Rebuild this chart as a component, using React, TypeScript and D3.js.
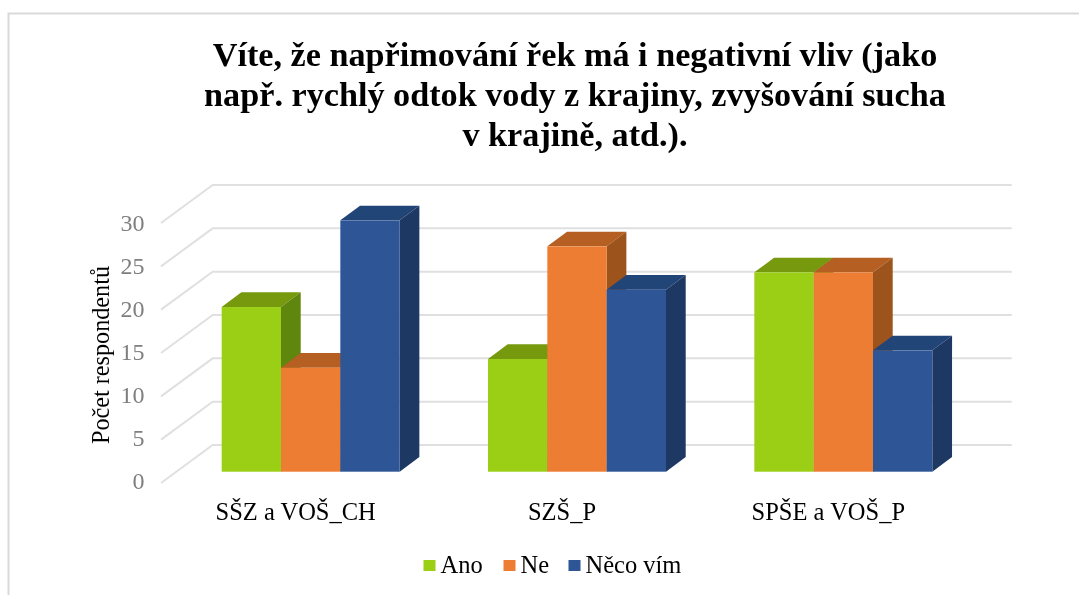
import React from "react";
import * as d3 from "d3";

const titleLines = [
  "Víte, že napřimování řek má i negativní vliv (jako",
  "např. rychlý odtok vody z krajiny, zvyšování sucha",
  "v krajině, atd.).",
];
const categories = ["SŠZ a VOŠ_CH", "SZŠ_P", "SPŠE a VOŠ_P"];
const seriesNames = ["Ano", "Ne", "Něco vím"];
const ano = [19, 13, 23];
const ne = [12, 26, 23];
const necoVim = [29, 21, 14];
const seriesValues = [ano, ne, necoVim];
const yTicks = [0, 5, 10, 15, 20, 25, 30];
const yLabel = "Počet respondentů";
const frontColors = ["#9ACF14", "#ED7D31", "#2E5797"];
const topColors = ["#76990F", "#B55E22", "#244478"];
const sideColors = ["#5F860A", "#9C521C", "#1F3864"];

const FONT = "'Liberation Serif', serif";

export default function App() {
  const W = 1079, H = 595;
  const base = 471.7;
  const yFront = d3.scaleLinear().domain([0, 30]).range([base, base - 260]);
  const yBack = d3.scaleLinear().domain([0, 30]).range([445, 185]);
  const yWallFront = d3.scaleLinear().domain([0, 30]).range([483, 223]);
  const yTickText = d3.scaleLinear().domain([0, 30]).range([489, 231]);
  const group = d3.scaleBand<string>().domain(categories).range([177.5, 976.5]).paddingInner(0).paddingOuter(0);
  const groupW = group.bandwidth();
  const inner = d3.scaleBand<string>().domain(seriesNames).range([0, 178]);
  const barW = inner.bandwidth();
  const groupOffset = (groupW - 178) / 2;
  const dx = 19.7, dy = -14.7;
  const poly = (pts: number[][]) => pts.map((p) => p.join(",")).join(" ");

  return (
    <svg
      width={W}
      height={H}
      viewBox={`0 0 ${W} ${H}`}
      style={{ position: "absolute", left: 0, top: 0, background: "#fff" }}
      fontFamily={FONT}
    >
      <defs>
        <filter id="soft" x="-5%" y="-5%" width="110%" height="110%">
          <feGaussianBlur stdDeviation="0.35" />
        </filter>
      </defs>
      <g filter="url(#soft)">
        <path d={`M8.5 595V13.5H1079`} fill="none" stroke="#D9D9D9" strokeWidth={2} />
        {titleLines.map((t, i) => (
          <text key={i} x={575} y={66 + i * 40.2} textAnchor="middle" fontSize={34.2} fontWeight={700} fill="#000">
            {t}
          </text>
        ))}
        {yTicks.map((t) => (
          <g key={t}>
            <polyline
              points={poly([[161, yWallFront(t)], [212.7, yBack(t)], [1011.7, yBack(t)]])}
              fill="none"
              stroke="#E0E0E0"
              strokeWidth={2}
            />
            <text x={144.5} y={yTickText(t)} textAnchor="end" fontSize={24} fill="#7F7F7F">
              {t}
            </text>
          </g>
        ))}
        <text
          transform="translate(108.5,355) rotate(-90)"
          textAnchor="middle"
          fontSize={24.2}
          fill="#000"
        >
          {yLabel}
        </text>
        {categories.map((c, ci) => {
          const gx = group(c)! + groupOffset;
          return (
            <g key={c}>
              {seriesNames.map((s, si) => {
                const x0 = gx + inner(s)!;
                const x1 = x0 + barW;
                const yT = yFront(seriesValues[si][ci]);
                return (
                  <g key={s}>
                    <polygon points={poly([[x0, yT], [x1, yT], [x1 + dx, yT + dy], [x0 + dx, yT + dy]])} fill={topColors[si]} />
                    <polygon points={poly([[x1, yT], [x1 + dx, yT + dy], [x1 + dx, base + dy], [x1, base]])} fill={sideColors[si]} />
                    <rect x={x0} y={yT} width={barW} height={base - yT} fill={frontColors[si]} />
                  </g>
                );
              })}
              <text x={gx + 74} y={520} textAnchor="middle" fontSize={24.5} fill="#000">
                {c}
              </text>
            </g>
          );
        })}
        {seriesNames.map((s, i) => {
          const lx = [423.5, 503.5, 568.5][i];
          return (
            <g key={s}>
              <rect x={lx} y={560} width={12} height={11} fill={frontColors[i]} />
              <text x={lx + 17} y={572.7} fontSize={24.5} fill="#000">
                {s}
              </text>
            </g>
          );
        })}
      </g>
    </svg>
  );
}
